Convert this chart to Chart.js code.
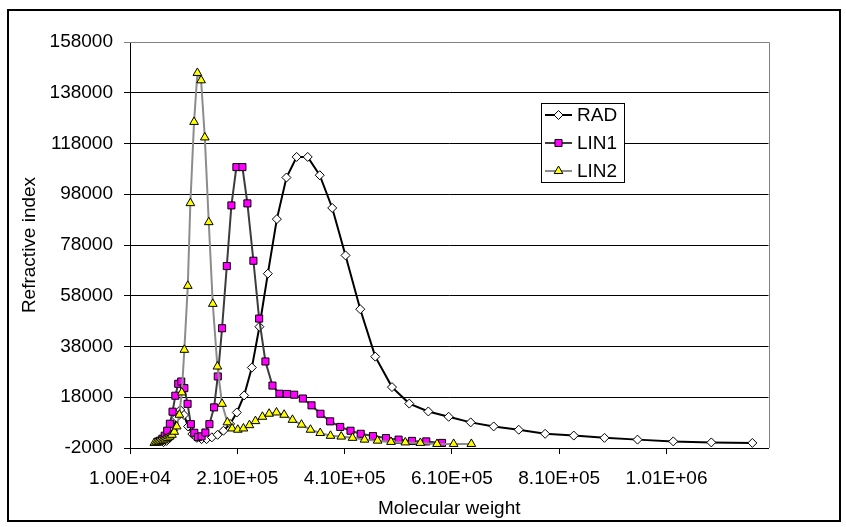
<!DOCTYPE html>
<html>
<head>
<meta charset="utf-8">
<title>Refractive index vs molecular weight</title>
<script src="https://cdn.jsdelivr.net/npm/chart.js@4.4.0/dist/chart.umd.min.js"></script>
<style>
  html, body { margin: 0; padding: 0; background: #fff; }
  #wrap { width: 846px; height: 527px; }
</style>
</head>
<body>
<div id="wrap"><canvas id="giChart" width="846" height="527"></canvas></div>
<script>
// GPC traces: refractive index against molecular weight

const radMW = [72500, 78100, 84100, 90200, 96800, 103700, 110700, 118200, 126200, 134600,
  143400, 152700, 162600, 173200, 184100, 196600, 209100, 222700, 237100, 251200,
  266900, 283700, 301600, 320600, 341200, 363600, 386900, 411700, 439100, 467100,
  498300, 530500, 566000, 603900, 644900, 687800, 734500, 783700, 837100, 894300,
  955900, 1022500, 1093400, 1169900];
const radRI = [300, 800, 2000, 5000, 10000, 13000, 11000, 6500, 3500, 2000,
  1500, 1500, 2200, 3200, 4800, 7500, 12000, 18700, 29700, 45800,
  66700, 88200, 104600, 112700, 112700, 105500, 92600, 73900, 52700, 34000,
  22000, 15500, 12400, 10300, 8100, 6500, 5200, 3600, 2900, 2000,
  1300, 600, 200, 0];

const lin1MW = [61900, 66000, 70300, 74700, 79400, 84300, 89300, 94500, 99900, 105500,
  111300, 117300, 123400, 129800, 136500, 143400, 150500, 158000, 166700, 173600,
  181600, 190400, 199000, 208300, 219500, 228800, 240000, 250700, 262400, 275500,
  288500, 302400, 316000, 332200, 348300, 365000, 383100, 401800, 421000, 440000,
  462800, 487100, 510600, 535600, 562200, 591500];
const lin1RI = [480, 870, 1660, 2840, 4810, 7560, 12300, 18600, 23300, 24200,
  21600, 15400, 7400, 4000, 2300, 2600, 4100, 7400, 14000, 26200,
  45200, 69700, 93600, 108700, 108700, 94400, 71800, 49000, 32100, 22600,
  19400, 19300, 19000, 17500, 14800, 11500, 8500, 6300, 4800, 3600,
  2700, 1900, 1300, 800, 600, 0];

const lin2MW = [55300, 58500, 61900, 65200, 68800, 72300, 76000, 80000, 84100, 88200,
  92500, 97100, 102000, 106500, 111300, 117700, 122500, 129400, 135600, 142500,
  149400, 156800, 164300, 172900, 181600, 191500, 200300, 210900, 221400, 232600,
  243800, 256800, 269300, 283000, 297300, 312800, 329600, 346400, 364500, 383700,
  403700, 424700, 447100, 471400, 496400, 523100, 551100, 582200, 613200, 646200];
const lin2RI = [0, 100, 300, 500, 700, 1000, 1400, 1900, 2500, 3200,
  4400, 6500, 11100, 19900, 36700, 61900, 94500, 126500, 145800, 142900,
  120400, 87000, 54800, 30100, 15400, 8100, 5700, 5200, 5700, 7000,
  8600, 10300, 11500, 12000, 11100, 9100, 7200, 5200, 3900, 2800,
  2500, 2000, 1300, 900, 400, 200, 0, -400, -400, -400];

const xTicks = [10000, 210000, 410000, 610000, 810000, 1010000];
const xMin = 10000, xMax = 1200000;
const yMin = -2000, yMax = 158000, yStep = 20000;

const FONT = { family: "'Liberation Sans', Arial, sans-serif", size: 19 };

function pairs(xs, ys) {
  return xs.map((x, i) => ({ x: x, y: ys[i] }));
}

// 1.00E+04 style labels
function sci(v) {
  const e = Math.floor(Math.log10(v));
  const m = v / Math.pow(10, e);
  return m.toFixed(2) + 'E+' + String(e).padStart(2, '0');
}

// white page with the black frame round the whole chart
const pageFrame = {
  id: 'pageFrame',
  beforeDraw(chart) {
    const c = chart.ctx;
    c.save();
    c.fillStyle = '#fff';
    c.fillRect(0, 0, chart.width, chart.height);
    c.strokeStyle = '#000';
    c.lineWidth = 2;
    c.strokeRect(8, 10, 832, 511);
    c.restore();
  }
};

// grey top/right edge of the plot area
const plotBorder = {
  id: 'plotBorder',
  beforeDatasetsDraw(chart) {
    const a = chart.chartArea;
    const c = chart.ctx;
    c.save();
    c.strokeStyle = '#808080';
    c.lineWidth = 1;
    c.beginPath();
    c.moveTo(a.left, Math.round(a.top) + 0.5);
    c.lineTo(Math.round(a.right) + 0.5, Math.round(a.top) + 0.5);
    c.lineTo(Math.round(a.right) + 0.5, a.bottom);
    c.stroke();
    c.restore();
  }
};

// boxed legend sitting inside the plot
const boxLegend = {
  id: 'boxLegend',
  afterDraw(chart) {
    const c = chart.ctx;
    const bx = 541, by = 103, bw = 83, bh = 79, row = 28;
    c.save();
    c.fillStyle = '#fff';
    c.fillRect(bx, by, bw, bh);
    c.strokeStyle = '#000';
    c.lineWidth = 1;
    c.strokeRect(bx + 0.5, by + 0.5, bw, bh);
    c.font = FONT.size + 'px ' + FONT.family;
    c.textBaseline = 'middle';
    chart.data.datasets.forEach((ds, i) => {
      const y = by + 12 + i * row;
      c.strokeStyle = ds.borderColor;
      c.lineWidth = ds.borderWidth;
      c.beginPath();
      c.moveTo(bx + 4, y);
      c.lineTo(bx + 31, y);
      c.stroke();
      c.fillStyle = ds.pointBackgroundColor;
      c.strokeStyle = ds.pointBorderColor;
      c.lineWidth = ds.pointBorderWidth;
      Chart.helpers.drawPoint(c, {
        pointStyle: ds.pointStyle, radius: ds.pointRadius,
        borderWidth: ds.pointBorderWidth, rotation: 0
      }, bx + 17.5, y);
      c.fillStyle = '#000';
      c.fillText(ds.label, bx + 36, y + 1);
    });
    c.restore();
  }
};

new Chart(document.getElementById('giChart'), {
  type: 'line',
  data: {
    datasets: [
      {
        label: 'RAD', data: pairs(radMW, radRI), order: 3,
        borderColor: '#000', borderWidth: 2,
        pointStyle: 'rectRot', pointRadius: 4.5,
        pointBackgroundColor: '#fff', pointBorderColor: '#000', pointBorderWidth: 1
      },
      {
        label: 'LIN1', data: pairs(lin1MW, lin1RI), order: 2,
        borderColor: '#3c3c3c', borderWidth: 2,
        pointStyle: 'rect', pointRadius: 5,
        pointBackgroundColor: '#ff00ff', pointBorderColor: '#000', pointBorderWidth: 1
      },
      {
        label: 'LIN2', data: pairs(lin2MW, lin2RI), order: 1,
        borderColor: '#8c8c8c', borderWidth: 2,
        pointStyle: 'triangle', pointRadius: 5,
        pointBackgroundColor: '#ffff00', pointBorderColor: '#000', pointBorderWidth: 1
      }
    ]
  },
  options: {
    responsive: false,
    animation: false,
    devicePixelRatio: 1,
    layout: { padding: { left: 0, top: 42, right: 77.5, bottom: 0 } },
    plugins: {
      legend: { display: false },
      tooltip: { enabled: false }
    },
    scales: {
      x: {
        type: 'linear',
        min: xMin,
        max: xMax,
        afterBuildTicks: scale => { scale.ticks = xTicks.map(v => ({ value: v })); },
        afterFit: scale => { scale.height = 79; },
        ticks: {
          callback: v => sci(v),
          font: FONT, color: '#000', padding: 13,
          maxRotation: 0, autoSkip: false
        },
        grid: { drawOnChartArea: false, drawTicks: true, tickLength: 6, color: '#000' },
        border: { color: '#000', width: 1 },
        title: {
          display: true, text: 'Molecular weight',
          font: FONT, color: '#000', padding: { top: 0, bottom: 7 }
        }
      },
      y: {
        min: yMin,
        max: yMax,
        afterFit: scale => { scale.width = 130; },
        ticks: {
          stepSize: yStep,
          callback: v => String(v),
          font: FONT, color: '#000', padding: 11
        },
        grid: {
          color: c => (c.tick && c.tick.value === yMax) ? '#808080' : '#000',
          drawTicks: true, tickLength: 6
        },
        border: { color: '#000', width: 1 },
        title: {
          display: true, text: 'Refractive index',
          font: FONT, color: '#000', padding: { top: 18, bottom: 0 }
        }
      }
    }
  },
  plugins: [pageFrame, plotBorder, boxLegend]
});
</script>
</body>
</html>
